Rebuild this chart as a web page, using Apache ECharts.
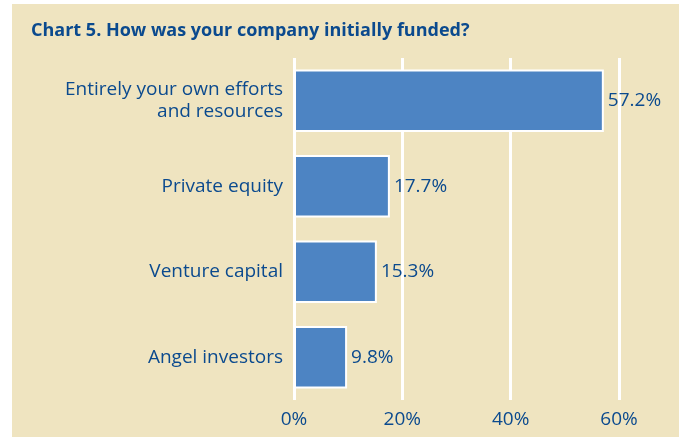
<!DOCTYPE html>
<html>
<head>
<meta charset="utf-8">
<script src="https://cdn.jsdelivr.net/npm/echarts@6/dist/echarts.min.js"></script>
<style>
  html, body { margin: 0; padding: 0; background: #fff; }
  #chart { width: 679px; height: 437px; }
</style>
</head>
<body>
<div id="chart"></div>
<script>
var categories = ['Entirely your own efforts\nand resources', 'Private equity', 'Venture capital', 'Angel investors'];
var shares = [57.2, 17.7, 15.3, 9.8];
var tickValues = [0, 20, 40, 60];

var textColor = '#0b4a8e';
var myChart = echarts.init(document.getElementById('chart'));

var option = {
    backgroundColor: '#ffffff',
    textStyle: { fontFamily: 'Open Sans' },
    graphic: [{
        type: 'rect',
        left: 12, top: 4,
        shape: { width: 667, height: 433 },
        style: { fill: '#efe4c0' },
        z: -10
    }],
    title: {
        text: 'Chart 5. How was your company initially funded?',
        left: 26, top: 17,
        textStyle: { color: textColor, fontSize: 18, fontWeight: 'bold', fontFamily: 'Open Sans' }
    },
    grid: { left: 294, right: 60, top: 58, bottom: 37, containLabel: false },
    xAxis: {
        type: 'value',
        min: 0, max: 60, interval: 20,
        axisLine: { show: false },
        axisTick: { show: false },
        splitLine: { show: true, lineStyle: { color: '#ffffff', width: 3 } },
        axisLabel: {
            color: textColor, fontSize: 19, margin: 10,
            formatter: function (v) { return tickValues.indexOf(v) >= 0 ? v + '%' : ''; }
        }
    },
    yAxis: {
        type: 'category',
        inverse: true,
        data: categories,
        axisLine: { show: false },
        axisTick: { show: false },
        axisLabel: { color: textColor, fontSize: 19, margin: 11, align: 'right', lineHeight: 22 }
    },
    series: [{
        type: 'bar',
        data: shares,
        barWidth: '73%',
        itemStyle: { color: '#4d84c3', borderColor: '#ffffff', borderWidth: 2 },
        label: {
            show: true, position: 'right', distance: 4,
            color: textColor, fontSize: 19,
            formatter: function (p) { return p.value.toFixed(1) + '%'; }
        }
    }]
};

myChart.setOption(option);
</script>
</body>
</html>
